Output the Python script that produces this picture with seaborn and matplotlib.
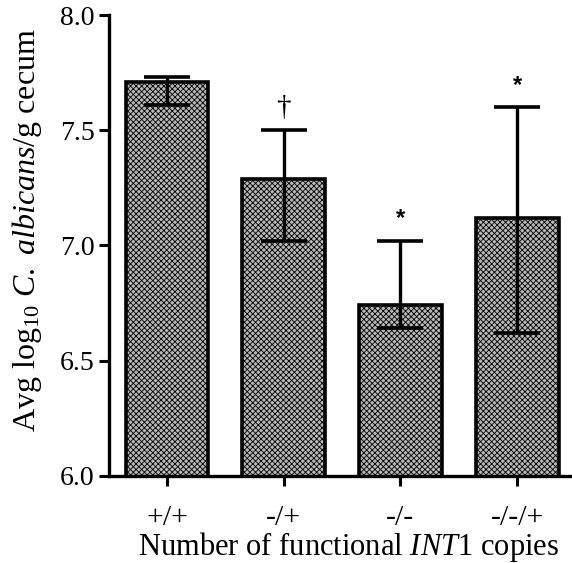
import matplotlib
matplotlib.use("Agg")
import matplotlib.pyplot as plt
import seaborn as sns
import numpy as np
import pandas as pd

genotypes = ["+/+", "-/+", "-/-", "-/-/+"]
means = [7.71, 7.29, 6.74, 7.12]
err_upper = [7.73, 7.50, 7.02, 7.60]
err_lower = [7.61, 7.02, 6.64, 6.62]
marks = ["", "\u2020", "*", "*"]

sns.set_theme(style="ticks")
plt.rcParams["font.family"] = ["Liberation Serif", "DejaVu Serif"]
plt.rcParams["mathtext.fontset"] = "custom"
plt.rcParams["mathtext.rm"] = "Liberation Serif"
plt.rcParams["mathtext.it"] = "Liberation Serif:italic"
plt.rcParams["hatch.linewidth"] = 0.6
plt.rcParams["hatch.color"] = "#4a4a4a"

df = pd.DataFrame({"genotype": genotypes, "mean": means})

fig = plt.figure(figsize=(5.72, 5.63), dpi=100)
ax = fig.add_axes([0.19, 0.155, 0.81, 0.818])

sns.barplot(data=df, x="genotype", y="mean", errorbar=None, width=0.71,
            color="#b8b8b8", edgecolor="black", linewidth=2.6,
            hatch="xxxxxx", ax=ax)

m = np.array(means)
yerr = np.vstack([m - np.array(err_lower), np.array(err_upper) - m])
ax.errorbar(np.arange(len(means)), m, yerr=yerr, fmt="none", ecolor="black",
            elinewidth=2.4, capsize=16.5, capthick=2.6, zorder=5)

for i, s in enumerate(marks):
    if s == "*":
        ax.text(i, err_upper[i] + 0.045, s, ha="center", va="bottom",
                fontsize=17, fontweight="bold", family="Liberation Sans",
                color="black")
    elif s:
        ax.text(i, err_upper[i] + 0.04, s, ha="center", va="bottom",
                fontsize=21, color="black")

ax.set_ylim(6.0, 8.0)
ax.set_xlim(-0.5, 3.47)
ax.set_yticks([6.0, 6.5, 7.0, 7.5, 8.0])
ax.set_yticklabels(["6.0", "6.5", "7.0", "7.5", "8.0"])
ax.tick_params(axis="both", width=2.2, length=7, color="black",
               labelcolor="black", direction="out")
ax.tick_params(axis="y", labelsize=20, pad=3)
ax.tick_params(axis="x", labelsize=21.5, pad=14)
ax.set_xlabel(r"Number of functional $\mathit{INT1}$ copies", fontsize=22,
              color="black")
ax.set_ylabel(r"Avg log$_{10}$ $\mathit{C.}$ $\mathit{albicans}$/g cecum",
              fontsize=23, color="black")
ax.xaxis.set_label_coords(0.517, -0.118)
ax.yaxis.set_label_coords(-0.14, 0.534)
for side in ["top", "right"]:
    ax.spines[side].set_visible(False)
for side in ["left", "bottom"]:
    ax.spines[side].set_linewidth(2.4)
    ax.spines[side].set_color("black")

fig.savefig("out.png", dpi=100)
